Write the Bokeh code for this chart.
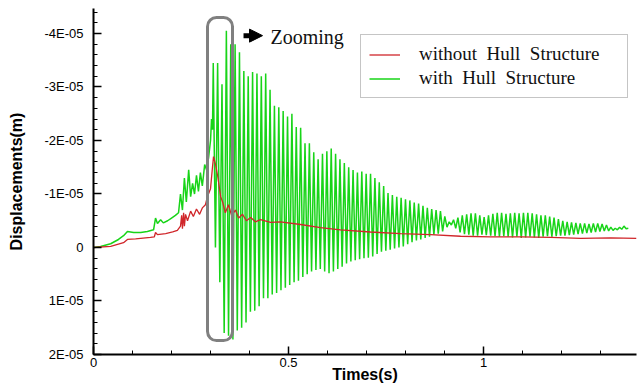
from bokeh.plotting import figure
from bokeh.models import (Range1d, FixedTicker, CustomJSTickFormatter, Legend, LegendItem,
                          BoxAnnotation, Arrow, NormalHead, Label)
from bokeh.embed import file_html
from bokeh.resources import INLINE

# ---------------- data (displacement in units of 1E-05 m, time in s) ----------------
series_names = ["without  Hull  Structure", "with  Hull  Structure"]

x_ticks = [0, 0.5, 1]
x_labels = ["0", "0.5", "1"]
y_ticks = [-4, -3, -2, -1, 0, 1, 2]
y_labels = ["-4E-05", "-3E-05", "-2E-05", "-1E-05", "0", "1E-05", "2E-05"]

red_t = [0, 0.044, 0.077, 0.087, 0.108, 0.121, 0.146, 0.156, 0.159, 0.164, 0.185, 0.203,
         0.215, 0.223, 0.226, 0.228, 0.231, 0.233, 0.236, 0.241, 0.249, 0.256, 0.264,
         0.272, 0.279, 0.287, 0.292, 0.300, 0.305, 0.3077, 0.313, 0.318, 0.326, 0.331,
         0.338, 0.346, 0.354, 0.364, 0.372, 0.382, 0.392, 0.403, 0.415, 0.428, 0.454,
         0.479, 0.531, 0.582, 0.633, 0.71, 0.787, 0.864, 0.941, 1.018, 1.095, 1.172,
         1.249, 1.326, 1.392]
red_v = [0, -0.02, -0.09, -0.15, -0.16, -0.17, -0.19, -0.20, -0.28, -0.24, -0.26, -0.29,
         -0.32, -0.40, -0.60, -0.35, -0.65, -0.40, -0.62, -0.50, -0.68, -0.58, -0.72,
         -0.62, -0.74, -0.80, -0.95, -1.10, -1.50, -1.70, -1.55, -1.35, -0.95, -0.85,
         -0.65, -0.80, -0.60, -0.70, -0.55, -0.62, -0.50, -0.56, -0.48, -0.52, -0.47,
         -0.48, -0.43, -0.37, -0.33, -0.29, -0.26, -0.24, -0.21, -0.20, -0.20, -0.19,
         -0.17, -0.18, -0.17]

green_pre_t = [0, 0.018, 0.044, 0.064, 0.077, 0.087, 0.103, 0.121, 0.138, 0.154, 0.159,
               0.164, 0.172, 0.179, 0.19, 0.2, 0.21, 0.218, 0.223, 0.228, 0.233, 0.238,
               0.244, 0.249, 0.254, 0.259, 0.264, 0.269, 0.274, 0.279, 0.285, 0.29, 0.295,
               0.3, 0.3026, 0.3051]
green_pre_v = [0, -0.02, -0.07, -0.15, -0.22, -0.30, -0.28, -0.28, -0.30, -0.33, -0.55,
               -0.45, -0.52, -0.46, -0.50, -0.55, -0.60, -0.65, -1.0, -0.70, -1.3, -0.85,
               -1.45, -0.95, -1.2, -1.0, -1.35, -1.05, -1.40, -1.15, -1.55, -1.45, -1.68,
               -2.0, -2.4, -2.2]

green_peak_t = [0.307, 0.3182, 0.3294, 0.3406, 0.3518, 0.363, 0.3742, 0.3854, 0.3966, 0.4078,
                0.419, 0.4302, 0.4414, 0.4526, 0.4638, 0.475, 0.4862, 0.4974, 0.5086, 0.5198,
                0.531, 0.5422, 0.5534, 0.5646, 0.5758, 0.587, 0.5982, 0.6094, 0.6206, 0.6318,
                0.643, 0.6542, 0.6654, 0.6766, 0.6878, 0.699, 0.7102, 0.7214, 0.7326, 0.7438,
                0.755, 0.7662, 0.7774, 0.7886, 0.7998, 0.811, 0.8222, 0.8334, 0.8446, 0.8558,
                0.867, 0.8782, 0.8894, 0.9006, 0.9118, 0.923, 0.9342, 0.9454, 0.9566, 0.9678,
                0.979, 0.9902, 1.0014, 1.0126, 1.0238, 1.035, 1.0462, 1.0574, 1.0686, 1.0798,
                1.091, 1.1022, 1.1134, 1.1246, 1.1358, 1.147, 1.1582, 1.1694, 1.1806, 1.1918,
                1.203, 1.2142, 1.2254, 1.2366, 1.2478, 1.259, 1.2702, 1.2814, 1.2926, 1.3038,
                1.315, 1.3262, 1.3374, 1.3486, 1.3598, 1.371]
green_peak_v = [-3.45, -3.45, -3.05, -4.05, -3.80, -3.80, -3.65, -3.30, -3.20, -3.28,
                -3.25, -3.20, -3.25, -2.95, -2.65, -2.62, -2.55, -2.45, -2.50, -2.25,
                -2.24, -1.95, -1.95, -1.78, -1.65, -1.75, -1.80, -1.85, -1.75, -1.65,
                -1.58, -1.50, -1.45, -1.40, -1.42, -1.38, -1.38, -1.30, -1.22, -1.15,
                -1.02, -0.98, -0.95, -0.93, -0.90, -0.88, -0.84, -0.82, -0.78, -0.74,
                -0.72, -0.70, -0.68, -0.58, -0.48, -0.52, -0.56, -0.60, -0.62, -0.64,
                -0.64, -0.60, -0.57, -0.60, -0.63, -0.65, -0.65, -0.63, -0.64, -0.65,
                -0.64, -0.65, -0.65, -0.64, -0.62, -0.60, -0.60, -0.58, -0.56, -0.53,
                -0.50, -0.48, -0.47, -0.46, -0.45, -0.45, -0.44, -0.45, -0.45, -0.44,
                -0.42, -0.38, -0.36, -0.38, -0.40, -0.36]
green_trough_t = [0.3126, 0.3238, 0.335, 0.3462, 0.3574, 0.3686, 0.3798, 0.391, 0.4022, 0.4134,
                  0.4246, 0.4358, 0.447, 0.4582, 0.4694, 0.4806, 0.4918, 0.503, 0.5142, 0.5254,
                  0.5366, 0.5478, 0.559, 0.5702, 0.5814, 0.5926, 0.6038, 0.615, 0.6262, 0.6374,
                  0.6486, 0.6598, 0.671, 0.6822, 0.6934, 0.7046, 0.7158, 0.727, 0.7382, 0.7494,
                  0.7606, 0.7718, 0.783, 0.7942, 0.8054, 0.8166, 0.8278, 0.839, 0.8502, 0.8614,
                  0.8726, 0.8838, 0.895, 0.9062, 0.9174, 0.9286, 0.9398, 0.951, 0.9622, 0.9734,
                  0.9846, 0.9958, 1.007, 1.0182, 1.0294, 1.0406, 1.0518, 1.063, 1.0742, 1.0854,
                  1.0966, 1.1078, 1.119, 1.1302, 1.1414, 1.1526, 1.1638, 1.175, 1.1862, 1.1974,
                  1.2086, 1.2198, 1.231, 1.2422, 1.2534, 1.2646, 1.2758, 1.287, 1.2982, 1.3094,
                  1.3206, 1.3318, 1.343, 1.3542, 1.3654]
green_trough_v = [0.00, 0.65, 1.60, 1.65, 1.72, 1.55, 1.50, 1.40, 1.20, 1.18,
                  1.10, 0.95, 0.95, 0.88, 0.85, 0.80, 0.75, 0.70, 0.65, 0.62,
                  0.55, 0.50, 0.45, 0.42, 0.40, 0.45, 0.48, 0.45, 0.40, 0.36,
                  0.30, 0.26, 0.24, 0.22, 0.20, 0.19, 0.17, 0.12, 0.08, 0.06,
                  0.04, 0.02, 0.00, -0.02, -0.06, -0.10, -0.13, -0.15, -0.18, -0.20,
                  -0.24, -0.26, -0.30, -0.38, -0.42, -0.36, -0.28, -0.25, -0.24, -0.22,
                  -0.22, -0.24, -0.23, -0.22, -0.21, -0.20, -0.21, -0.20, -0.19, -0.20,
                  -0.18, -0.19, -0.20, -0.19, -0.18, -0.20, -0.21, -0.20, -0.21, -0.22,
                  -0.22, -0.23, -0.24, -0.25, -0.26, -0.27, -0.28, -0.29, -0.30, -0.31,
                  -0.31, -0.32, -0.33, -0.34, -0.35]

# merge peaks and troughs in time order
green_t = list(green_pre_t)
green_v = list(green_pre_v)
for i in range(len(green_peak_t)):
    green_t.append(green_peak_t[i]); green_v.append(green_peak_v[i])
    if i < len(green_trough_t):
        green_t.append(green_trough_t[i]); green_v.append(green_trough_v[i])

# ---------------- styling / layout constants ----------------
RED = "#d0262a"
GREEN = "#18d418"
SANS = "Liberation Sans"
SERIF = "Liberation Serif"
X_MAX = 1.392
Y_TOP, Y_BOTTOM = -4.467, 2.0

p = figure(width=638, height=389, output_backend="svg", toolbar_location=None,
           x_range=Range1d(0, X_MAX), y_range=Range1d(Y_BOTTOM, Y_TOP),
           min_border_left=93, min_border_right=2, min_border_top=8, min_border_bottom=35)
p.outline_line_color = None
p.xgrid.visible = False
p.ygrid.visible = False
p.background_fill_color = "white"

r_green = p.line(green_t, green_v, line_color=GREEN, line_width=1.5)
r_red = p.line(red_t, red_v, line_color=RED, line_width=1.3)

fmt_code = """
let best = 0, bd = Infinity;
for (let i = 0; i < tvals.length; i++) {
  const d = Math.abs(tvals[i] - tick);
  if (d < bd) { bd = d; best = i; }
}
return tlabels[best];
"""
x_minor = [0.1, 0.2, 0.3, 0.4, 0.6, 0.7, 0.8, 0.9, 1.1, 1.2, 1.3]
y_minor = [round(-4.4 + 0.2 * i, 1) for i in range(33)]

for ax in (p.xaxis[0], p.yaxis[0]):
    ax.axis_line_width = 2
    ax.axis_line_color = "black"
    ax.major_tick_in = 8
    ax.major_tick_out = 0
    ax.minor_tick_in = 4
    ax.minor_tick_out = 0
    ax.major_tick_line_width = 1.5
    ax.minor_tick_line_width = 1
    ax.major_label_text_font = SANS
    ax.major_label_text_font_size = "13px"
    ax.major_label_text_color = "black"
    ax.axis_label_text_font = SANS
    ax.axis_label_text_font_style = "bold"
    ax.axis_label_text_font_size = "16px"
    ax.axis_label_text_color = "black"

p.xaxis.ticker = FixedTicker(ticks=x_ticks, minor_ticks=x_minor)
p.xaxis.formatter = CustomJSTickFormatter(args=dict(tvals=x_ticks, tlabels=x_labels), code=fmt_code)
p.xaxis.major_label_standoff = 3
p.xaxis.axis_label = "Times(s)"
p.xaxis.axis_label_standoff = -4

p.yaxis.ticker = FixedTicker(ticks=y_ticks, minor_ticks=y_minor)
p.yaxis.formatter = CustomJSTickFormatter(args=dict(tvals=y_ticks, tlabels=y_labels), code=fmt_code)
p.yaxis.major_label_standoff = 10
p.yaxis.axis_label = "Displacements(m)"
p.yaxis.axis_label_standoff = 16

# grey rounded box marking the zoom region
p.add_layout(BoxAnnotation(left=0.2923, right=0.3564, top=-4.30, bottom=1.74,
                           fill_color=None, fill_alpha=0, line_color="#808080",
                           line_alpha=1, line_width=3, border_radius=9))

# arrow + "Zooming"
p.add_layout(Arrow(end=NormalHead(size=13, fill_color="black", line_color="black", line_width=1),
                   x_start=0.3846, y_start=-3.96, x_end=0.4333, y_end=-3.96,
                   line_width=5, line_color="black"))
p.add_layout(Label(x=0.4538, y=-3.93, text="Zooming", text_align="left",
                   text_baseline="middle", text_font=SERIF, text_font_size="20px",
                   text_color="#111111"))

legend = Legend(items=[LegendItem(label=series_names[0], renderers=[r_red]),
                       LegendItem(label=series_names[1], renderers=[r_green])],
                location=(267, 256), label_text_font=SERIF, label_text_font_size="19px",
                label_text_color="#111111",
                glyph_width=31, glyph_height=21, label_height=21, label_standoff=19,
                label_width=200, padding=8, spacing=2, margin=0,
                border_line_color="#8c8c8c", border_line_width=1.5,
                background_fill_color="white", background_fill_alpha=1)
p.add_layout(legend)

open("out.html", "w").write(file_html(p, INLINE))
